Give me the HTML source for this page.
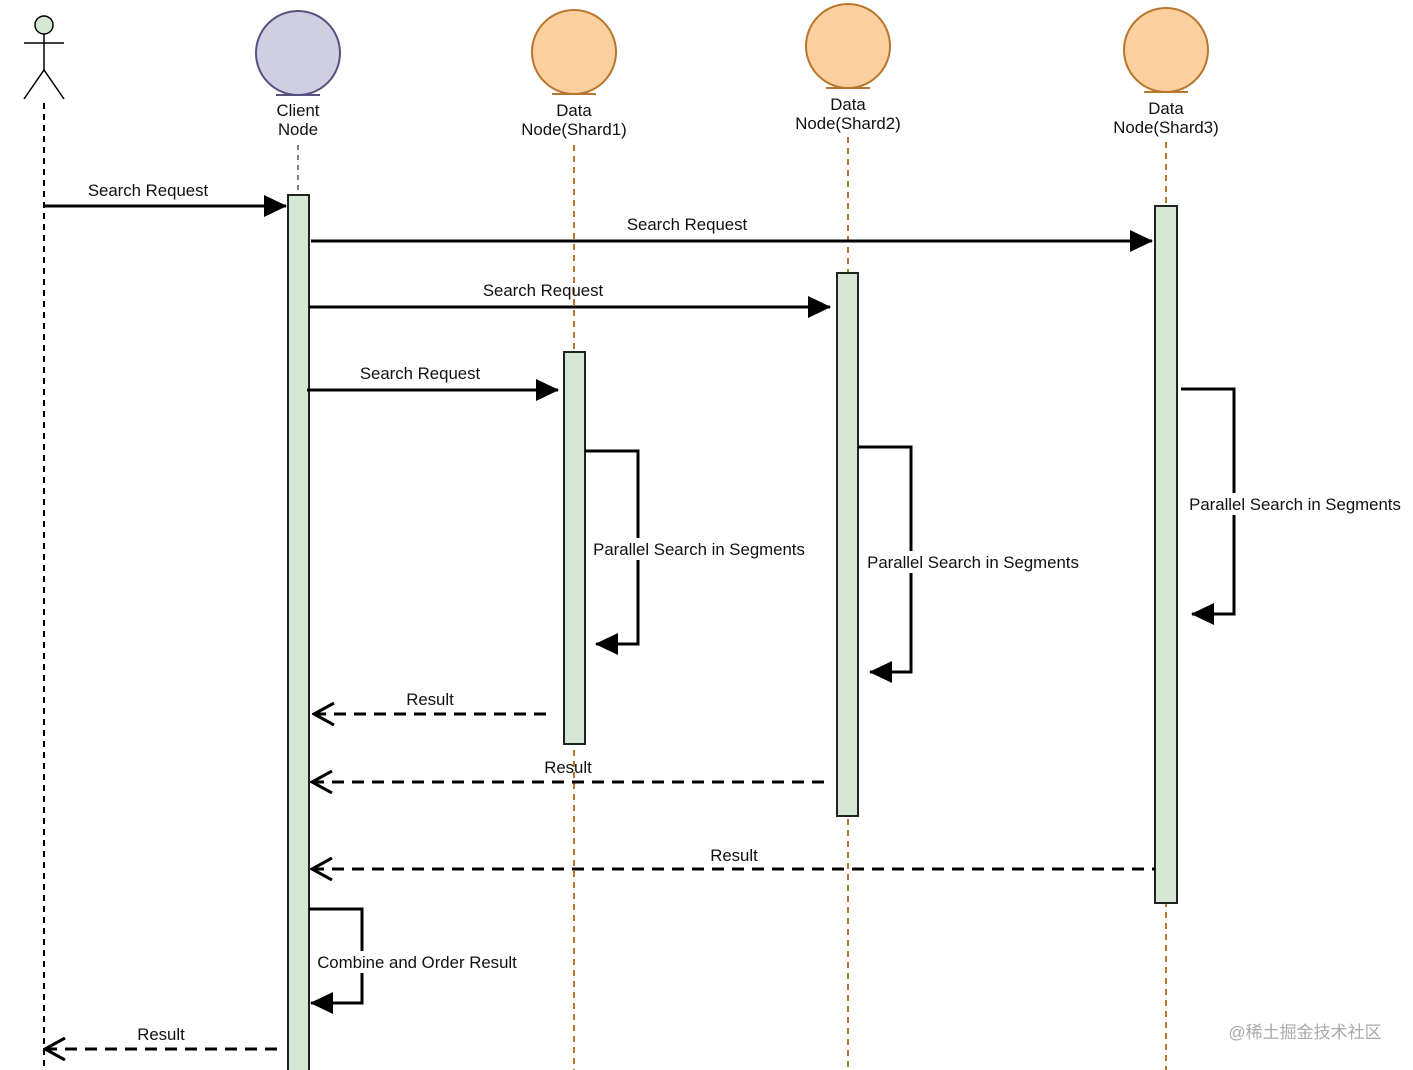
<!DOCTYPE html>
<html><head><meta charset="utf-8"><style>html,body{margin:0;padding:0;background:#fff}svg{display:block}text{font-family:"Liberation Sans",sans-serif;font-size:16.8px;fill:#111}</style></head>
<body>
<svg width="1413" height="1070" viewBox="0 0 1413 1070" xmlns="http://www.w3.org/2000/svg">
<defs>
<marker id="fa" markerWidth="24" markerHeight="24" refX="22" refY="12" orient="auto" markerUnits="userSpaceOnUse"><path d="M0,1 L23,12 L0,23 Z" fill="#000"/></marker>
<marker id="oa" markerWidth="24" markerHeight="24" refX="2" refY="12" orient="auto" markerUnits="userSpaceOnUse"><path d="M22,1 L2,12 L22,23" fill="none" stroke="#000" stroke-width="3"/></marker>
</defs>
<!-- actor -->
<circle cx="44" cy="25" r="9" fill="#d5e8d4" stroke="#000" stroke-width="1.5"/>
<line x1="24" y1="43" x2="64" y2="43" stroke="#000" stroke-width="1.5"/>
<line x1="44" y1="34" x2="44" y2="70" stroke="#000" stroke-width="1.5"/>
<polyline points="24,99 44,70 64,99" fill="none" stroke="#000" stroke-width="1.5"/>
<line x1="44" y1="103" x2="44" y2="1070" stroke="#000" stroke-width="2" stroke-dasharray="6,5"/>
<!-- client -->
<circle cx="298" cy="53" r="42" fill="#d0cee2" stroke="#56517e" stroke-width="2"/>
<line x1="276" y1="95" x2="320" y2="95" stroke="#56517e" stroke-width="2"/>
<text x="298" y="116" text-anchor="middle">Client</text><text x="298" y="135" text-anchor="middle">Node</text>
<line x1="298" y1="145" x2="298" y2="195" stroke="#56517e" stroke-width="1.5" stroke-dasharray="5,5"/>
<!-- shards -->
<g fill="#fbcf9e" stroke="#b7752e" stroke-width="2">
<circle cx="574" cy="52" r="42"/><circle cx="848" cy="46" r="42"/><circle cx="1166" cy="50" r="42"/>
</g>
<g stroke="#b7752e" stroke-width="2">
<line x1="552" y1="94" x2="596" y2="94"/><line x1="826" y1="88" x2="870" y2="88"/><line x1="1144" y1="92" x2="1188" y2="92"/>
</g>
<g stroke="#b7752e" stroke-width="2" stroke-dasharray="6,5">
<line x1="574" y1="145" x2="574" y2="1070"/><line x1="848" y1="137" x2="848" y2="1070"/><line x1="1166" y1="142" x2="1166" y2="1070"/>
</g>
<text x="574" y="116" text-anchor="middle">Data</text><text x="574" y="135" text-anchor="middle">Node(Shard1)</text>
<text x="848" y="110" text-anchor="middle">Data</text><text x="848" y="129" text-anchor="middle">Node(Shard2)</text>
<text x="1166" y="114" text-anchor="middle">Data</text><text x="1166" y="133" text-anchor="middle">Node(Shard3)</text>
<!-- activations -->
<g fill="#d5e8d4" stroke="#222" stroke-width="2">
<rect x="288" y="195" width="21" height="880"/>
<rect x="564" y="352" width="21" height="392"/>
<rect x="837" y="273" width="21" height="543"/>
<rect x="1155" y="206" width="22" height="697"/>
</g>
<!-- requests -->
<g stroke="#000" stroke-width="3" fill="none" marker-end="url(#fa)">
<line x1="44" y1="206" x2="286" y2="206"/>
<line x1="311" y1="241" x2="1152" y2="241"/>
<line x1="309" y1="307" x2="830" y2="307"/>
<line x1="307" y1="390" x2="558" y2="390"/>
<polyline points="585,451 638,451 638,644 596,644"/>
<polyline points="858,447 911,447 911,672 870,672"/>
<polyline points="1181,389 1234,389 1234,614 1192,614"/>
<polyline points="309,909 362,909 362,1003 311,1003"/>
</g>
<text x="148" y="196" text-anchor="middle">Search Request</text>
<text x="687" y="230" text-anchor="middle">Search Request</text>
<text x="543" y="296" text-anchor="middle">Search Request</text>
<text x="420" y="379" text-anchor="middle">Search Request</text>
<rect x="590" y="538" width="220" height="22" fill="#fff"/>
<text x="699" y="555" text-anchor="middle">Parallel Search in Segments</text>
<rect x="863" y="551" width="220" height="22" fill="#fff"/>
<text x="973" y="568" text-anchor="middle">Parallel Search in Segments</text>
<rect x="1185" y="493" width="222" height="22" fill="#fff"/>
<text x="1295" y="510" text-anchor="middle">Parallel Search in Segments</text>
<rect x="314" y="951" width="210" height="22" fill="#fff"/>
<text x="417" y="968" text-anchor="middle">Combine and Order Result</text>
<!-- results -->
<g stroke="#000" stroke-width="3" fill="none" stroke-dasharray="12,8" marker-start="url(#oa)">
<line x1="314" y1="714" x2="551" y2="714"/>
<line x1="312" y1="782" x2="827" y2="782"/>
<line x1="312" y1="869" x2="1155" y2="869"/>
<line x1="45" y1="1049" x2="282" y2="1049"/>
</g>
<text x="430" y="705" text-anchor="middle">Result</text>
<text x="568" y="773" text-anchor="middle">Result</text>
<text x="734" y="861" text-anchor="middle">Result</text>
<text x="161" y="1040" text-anchor="middle">Result</text>
<text x="1305" y="1038" text-anchor="middle" style="font-family:'Liberation Sans','Noto Sans CJK SC',sans-serif;fill:#aaa;font-size:17px">@稀土掘金技术社区</text>
</svg>
</body></html>
